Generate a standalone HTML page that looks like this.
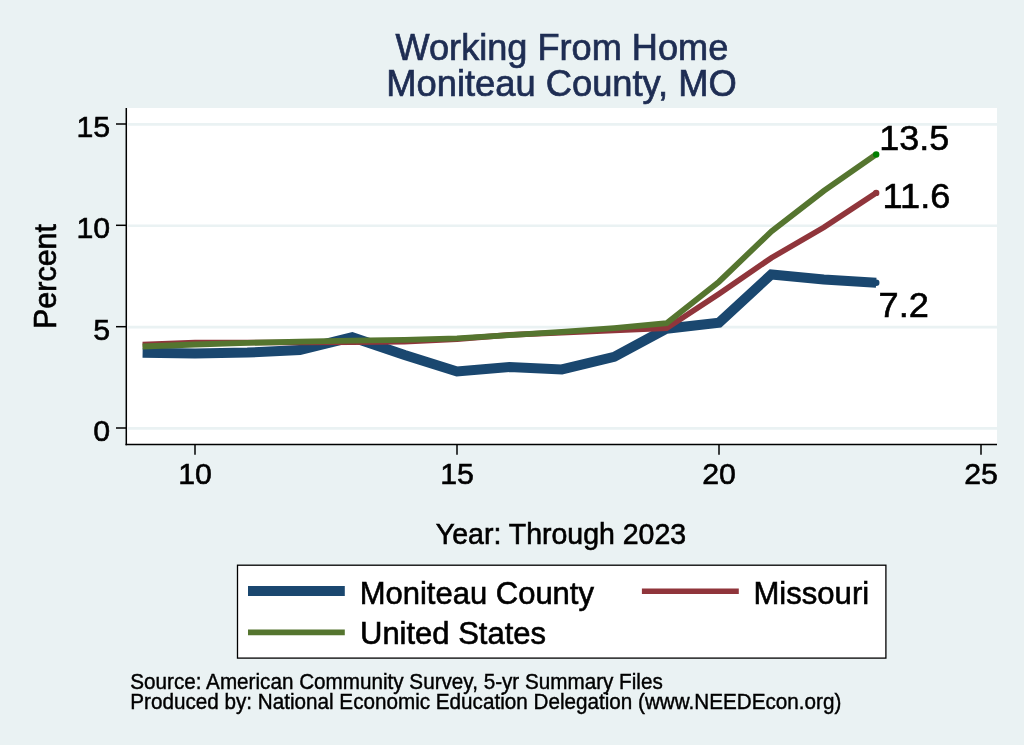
<!DOCTYPE html>
<html lang="en"><head><meta charset="utf-8"><title>Working From Home - Moniteau County, MO</title>
<style>html,body{margin:0;padding:0;background:#eaf2f3;}body{width:1024px;height:745px;overflow:hidden;}svg{display:block;}</style>
</head><body>
<svg width="1024" height="745" viewBox="0 0 1024 745" font-family="'Liberation Sans', Arial, Helvetica, sans-serif">
<rect x="0" y="0" width="1024" height="745" fill="#eaf2f3"/>
<rect x="126" y="108" width="871" height="336.5" fill="#ffffff"/>
<g stroke="#eaf2f3" stroke-width="2.6">
<line x1="128" x2="997" y1="428.4" y2="428.4"/>
<line x1="128" x2="997" y1="327.1" y2="327.1"/>
<line x1="128" x2="997" y1="225.7" y2="225.7"/>
<line x1="128" x2="997" y1="124.4" y2="124.4"/>
</g>
<g fill="none" stroke-linejoin="miter" stroke-linecap="butt">
<polyline points="142.6,352.8 195.0,353.6 247.4,352.6 299.8,350.0 352.2,337.2 404.6,355.0 457.0,371.5 509.4,367.0 561.8,369.4 614.2,356.9 666.6,328.7 719.0,322.6 771.4,274.4 823.8,279.4 876.2,282.7" stroke="#1a476f" stroke-width="10"/>
<polyline points="142.6,344.7 195.0,342.5 247.4,342.5 299.8,342.5 352.2,342.2 404.6,341.7 457.0,339.2 509.4,334.8 561.8,332.7 614.2,330.3 666.6,328.3 719.0,293.8 771.4,257.8 823.8,227.4 876.2,192.9" stroke="#90353b" stroke-width="5.7"/>
<polyline points="142.6,346.5 195.0,344.5 247.4,342.9 299.8,341.7 352.2,340.7 404.6,339.8 457.0,338.4 509.4,335.2 561.8,331.9 614.2,328.1 666.6,323.2 719.0,281.7 771.4,231.4 823.8,190.9 876.2,154.4" stroke="#55752f" stroke-width="5.8"/>
</g>
<circle cx="876.2" cy="282.7" r="3.3" fill="#1a476f"/>
<circle cx="876.2" cy="192.9" r="3.2" fill="#90353b"/>
<circle cx="876.2" cy="154.4" r="3.2" fill="#008000"/>
<g stroke="#000000" stroke-width="1.5" fill="none">
<line x1="126.3" x2="126.3" y1="108" y2="445.2"/>
<line x1="125.5" x2="997" y1="444.4" y2="444.4"/>
<line x1="116" x2="126" y1="428.0" y2="428.0"/>
<line x1="116" x2="126" y1="326.7" y2="326.7"/>
<line x1="116" x2="126" y1="225.3" y2="225.3"/>
<line x1="116" x2="126" y1="124.0" y2="124.0"/>
<line x1="195.0" x2="195.0" y1="444" y2="454.7"/>
<line x1="457.0" x2="457.0" y1="444" y2="454.7"/>
<line x1="719.0" x2="719.0" y1="444" y2="454.7"/>
<line x1="981.0" x2="981.0" y1="444" y2="454.7"/>
</g>
<rect x="237.5" y="565.2" width="648.4" height="92.9" fill="#ffffff" stroke="#000" stroke-width="1.3"/>
<line x1="248" x2="344.8" y1="591" y2="591" stroke="#1a476f" stroke-width="10"/>
<line x1="248" x2="344.8" y1="632.4" y2="632.4" stroke="#55752f" stroke-width="5.8"/>
<line x1="641.9" x2="738.8" y1="591.2" y2="591.2" stroke="#90353b" stroke-width="5.6"/>
<text id="t1" transform="translate(561.90 59.70) scale(1 1.03)" font-size="36.15" text-anchor="middle" fill="#1e2d53" stroke="#1e2d53" stroke-width="0.7">Working From Home</text>
<text id="t2" transform="translate(561.50 95.60) scale(1 1.03)" font-size="36.33" text-anchor="middle" fill="#1e2d53" stroke="#1e2d53" stroke-width="0.7">Moniteau County, MO</text>
<text id="y15" transform="translate(110.20 136.90) scale(1 1.0)" font-size="30.3" text-anchor="end" fill="#000" stroke="#000" stroke-width="0.6">15</text>
<text id="y10" transform="translate(110.20 238.23) scale(1 1.0)" font-size="30.3" text-anchor="end" fill="#000" stroke="#000" stroke-width="0.6">10</text>
<text id="y5" transform="translate(110.20 339.57) scale(1 1.0)" font-size="30.3" text-anchor="end" fill="#000" stroke="#000" stroke-width="0.6">5</text>
<text id="y0" transform="translate(110.20 440.90) scale(1 1.0)" font-size="30.3" text-anchor="end" fill="#000" stroke="#000" stroke-width="0.6">0</text>
<text id="x10" transform="translate(195.10 484.00) scale(1 1.0)" font-size="30.3" text-anchor="middle" fill="#000" stroke="#000" stroke-width="0.6">10</text>
<text id="x15" transform="translate(457.10 484.00) scale(1 1.0)" font-size="30.3" text-anchor="middle" fill="#000" stroke="#000" stroke-width="0.6">15</text>
<text id="x20" transform="translate(719.10 484.00) scale(1 1.0)" font-size="30.3" text-anchor="middle" fill="#000" stroke="#000" stroke-width="0.6">20</text>
<text id="x25" transform="translate(981.10 484.00) scale(1 1.0)" font-size="30.3" text-anchor="middle" fill="#000" stroke="#000" stroke-width="0.6">25</text>
<text id="ytitle" transform="translate(55.80 276.50) rotate(-90) scale(1 1.02)" font-size="30.5" text-anchor="middle" fill="#000" stroke="#000" stroke-width="0.6">Percent</text>
<text id="xtitle" transform="translate(561.00 543.50) scale(1 1.03)" font-size="28.5" text-anchor="middle" fill="#000" stroke="#000" stroke-width="0.6">Year: Through 2023</text>
<text id="d1" transform="translate(879.30 149.80) scale(1 0.97)" font-size="36.0" text-anchor="start" fill="#000" stroke="#000" stroke-width="0.6">13.5</text>
<text id="d2" transform="translate(882.60 207.90) scale(1 0.97)" font-size="36.2" text-anchor="start" fill="#000" stroke="#000" stroke-width="0.6">11.6</text>
<text id="d3" transform="translate(878.60 316.80) scale(1 0.97)" font-size="36.2" text-anchor="start" fill="#000" stroke="#000" stroke-width="0.6">7.2</text>
<text id="l1" transform="translate(359.70 604.00) scale(1 1.02)" font-size="31.0" text-anchor="start" fill="#000" stroke="#000" stroke-width="0.6">Moniteau County</text>
<text id="l2" transform="translate(360.00 644.40) scale(1 1.02)" font-size="31.0" text-anchor="start" fill="#000" stroke="#000" stroke-width="0.6">United States</text>
<text id="l3" transform="translate(753.40 604.00) scale(1 1.02)" font-size="31.1" text-anchor="start" fill="#000" stroke="#000" stroke-width="0.6">Missouri</text>
<text id="n1" transform="translate(130.30 688.70) scale(1 1.05)" font-size="20.67" text-anchor="start" fill="#000" stroke="#000" stroke-width="0.4">Source: American Community Survey, 5-yr Summary Files</text>
<text id="n2" transform="translate(130.30 709.20) scale(1 1.05)" font-size="20.67" text-anchor="start" fill="#000" stroke="#000" stroke-width="0.4">Produced by: National Economic Education Delegation (www.NEEDEcon.org)</text>
</svg>
</body></html>
